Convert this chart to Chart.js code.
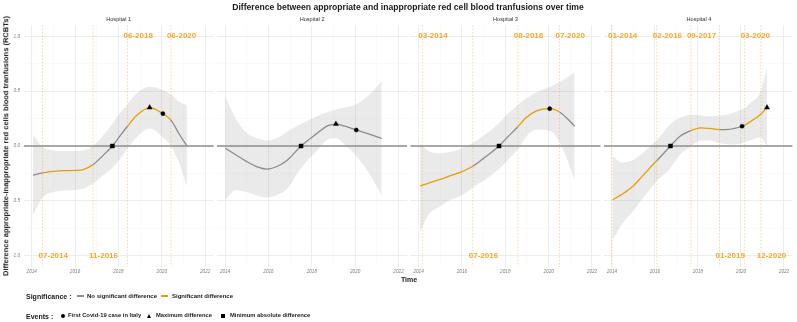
<!DOCTYPE html>
<html><head><meta charset="utf-8">
<script src="https://cdn.jsdelivr.net/npm/chart.js@4.4.1/dist/chart.umd.min.js"></script>
<style>
html,body{margin:0;padding:0;background:#fff;}
#wrap{position:relative;width:797px;height:322px;overflow:hidden;font-family:'Liberation Sans',Arial,Helvetica,sans-serif;color:#1a1a1a;}
canvas.panel{position:absolute;left:0;top:0;}
.t{position:absolute;white-space:nowrap;line-height:1;}
</style></head><body>
<div id="wrap">
<canvas class="panel" id="c0" width="797" height="322"></canvas>
<canvas class="panel" id="c1" width="797" height="322"></canvas>
<canvas class="panel" id="c2" width="797" height="322"></canvas>
<canvas class="panel" id="c3" width="797" height="322"></canvas>
<div id="texts"></div>
</div>
<script>
// ---------- data ----------
const HOSPITALS = ['Hospital 1', 'Hospital 2', 'Hospital 3', 'Hospital 4'];
const TITLE = 'Difference between appropriate and inappropriate red cell blood tranfusions over time';
const Y_TITLE = 'Difference appropriate-inappropriate red cells blood tranfusions (RCBTs)';
const X_TITLE = 'Time';
const X_TICKS = [2014, 2015, 2016, 2017, 2018, 2019, 2020, 2021, 2022];
const X_TICK_LABELS = ['2014', '', '2016', '', '2018', '', '2020', '', '2022'];
const Y_TICKS = [-1, -0.75, -0.5, -0.25, 0, 0.25, 0.5, 0.75, 1];
const Y_TICK_LABELS = ['-1.0', '', '-0.5', '', '0.0', '', '0.5', '', '1.0'];

const H1_TIME  = [2014.06, 2014.5, 2015.0, 2015.49, 2015.99, 2016.38, 2016.83, 2017.27, 2017.72, 2017.99, 2018.42, 2018.85, 2019.44, 2020.05, 2020.42, 2020.83, 2021.16];
const H1_FIT   = [-0.265, -0.245, -0.232, -0.225, -0.223, -0.215, -0.17, -0.09, 0.0, 0.07, 0.18, 0.28, 0.35, 0.295, 0.235, 0.1, 0.0];
const H1_UPPER = [0.10, -0.01, -0.04, -0.045, -0.045, -0.04, 0.0, 0.09, 0.2, 0.28, 0.38, 0.48, 0.54, 0.51, 0.47, 0.40, 0.37];
const H1_LOWER = [-0.63, -0.47, -0.42, -0.405, -0.40, -0.39, -0.34, -0.27, -0.2, -0.14, -0.02, 0.08, 0.16, 0.08, 0.0, -0.17, -0.37];
const H1_SIG = [[2014.5, 2016.83], [2018.42, 2020.42]];
const H1_EVENT_DATES = [2014.5, 2016.83, 2018.42, 2020.42];
const H1_EVENT_LABELS = ['07-2014', '11-2016', '06-2018', '06-2020'];
const H1_EVENT_SIDE = ['bottom', 'bottom', 'top', 'top'];
const H1_COVID = [2020.05, 0.295];
const H1_MAX = [2019.44, 0.35];
const H1_MIN = [2017.72, 0.0];

const H2_TIME  = [2014.0, 2014.49, 2014.98, 2015.48, 2015.92, 2016.46, 2016.86, 2017.5, 2018.24, 2018.74, 2019.11, 2019.53, 2020.05, 2020.61, 2021.22];
const H2_FIT   = [-0.02, -0.08, -0.14, -0.19, -0.21, -0.18, -0.13, 0.0, 0.115, 0.185, 0.2, 0.18, 0.146, 0.11, 0.07];
const H2_UPPER = [0.45, 0.25, 0.12, 0.07, 0.05, 0.08, 0.13, 0.2, 0.27, 0.31, 0.33, 0.35, 0.38, 0.46, 0.59];
const H2_LOWER = [-0.49, -0.40, -0.42, -0.45, -0.47, -0.44, -0.39, -0.2, -0.04, 0.06, 0.07, 0.01, -0.09, -0.24, -0.45];
const H2_SIG = [];
const H2_EVENT_DATES = [];
const H2_EVENT_LABELS = [];
const H2_EVENT_SIDE = [];
const H2_COVID = [2020.05, 0.146];
const H2_MAX = [2019.11, 0.2];
const H2_MIN = [2017.5, 0.0];

const H3_TIME  = [2014.07, 2014.49, 2014.99, 2015.48, 2015.98, 2016.5, 2016.98, 2017.71, 2018.15, 2018.58, 2018.94, 2019.44, 2020.05, 2020.5, 2020.81, 2021.2];
const H3_FIT   = [-0.365, -0.335, -0.305, -0.27, -0.235, -0.185, -0.115, 0.0, 0.09, 0.175, 0.255, 0.32, 0.34, 0.31, 0.26, 0.18];
const H3_UPPER = [0.02, -0.05, -0.065, -0.055, -0.02, 0.03, 0.09, 0.21, 0.3, 0.375, 0.43, 0.49, 0.54, 0.58, 0.62, 0.67];
const H3_LOWER = [-0.78, -0.62, -0.55, -0.49, -0.45, -0.38, -0.32, -0.21, -0.12, -0.03, 0.08, 0.15, 0.14, 0.04, -0.10, -0.31];
const H3_SIG = [[2014.0, 2016.5], [2018.58, 2020.5]];
const H3_EVENT_DATES = [2014.17, 2016.5, 2018.58, 2020.5];
const H3_EVENT_LABELS = ['03-2014', '07-2016', '08-2018', '07-2020'];
const H3_EVENT_SIDE = ['top', 'bottom', 'top', 'top'];
const H3_COVID = [2020.05, 0.34];
const H3_MAX = null;
const H3_MIN = [2017.71, 0.0];

const H4_TIME  = [2014.03, 2014.47, 2014.96, 2015.46, 2015.95, 2016.08, 2016.72, 2017.14, 2017.67, 2018.13, 2018.53, 2019.0, 2019.43, 2020.05, 2020.17, 2020.42, 2020.92, 2021.21];
const H4_FIT   = [-0.49, -0.44, -0.37, -0.265, -0.16, -0.135, 0.0, 0.085, 0.14, 0.165, 0.16, 0.15, 0.152, 0.18, 0.19, 0.22, 0.29, 0.35];
const H4_UPPER = [-0.09, -0.15, -0.13, -0.06, 0.03, 0.05, 0.2, 0.255, 0.285, 0.28, 0.27, 0.275, 0.29, 0.335, 0.345, 0.39, 0.5, 0.71];
const H4_LOWER = [-0.86, -0.71, -0.60, -0.47, -0.35, -0.32, -0.2, -0.085, -0.005, 0.05, 0.05, 0.025, 0.014, 0.025, 0.035, 0.05, 0.08, -0.01];
const H4_SIG = [[2014.0, 2016.08], [2017.67, 2019.0], [2020.17, 2021.3]];
const H4_EVENT_DATES = [2014.0, 2016.08, 2017.67, 2019.0, 2020.17, 2020.92];
const H4_EVENT_LABELS = ['01-2014', '02-2016', '09-2017', '01-2019', '03-2020', '12-2020'];
const H4_EVENT_SIDE = ['top', 'top', 'top', 'bottom', 'top', 'bottom'];
const H4_COVID = [2020.05, 0.18];
const H4_MAX = [2021.21, 0.35];
const H4_MIN = [2016.72, 0.0];

const LABEL_Y = {top: 1.0, bottom: -1.0};

const SIG_LEGEND = ['No significant difference', 'Significant difference'];
const EVENT_LEGEND = ['First Covid-19 case in Italy', 'Maximum difference', 'Minimum absolute difference'];

// ---------- layout & style ----------
const FONT = "'Liberation Sans', Arial, Helvetica, sans-serif";
const X_MIN = 2013.62, X_MAX = 2022.4, Y_MIN = -1.1, Y_MAX = 1.1;
const PANEL_LEFT0 = 23.5, PANEL_STEP = 193.43, PANEL_W = 190.3;
const PANEL_TOP = 25.3, PANEL_BOTTOM = 266.7;
const YW = 10, XH = 8;
const GRAY = '#8c8c8c', ORANGE = '#E69F00', ZERO = '#8f8f8f';
const BAND = 'rgba(150,150,150,0.2)';
const EVENT_COLOR = '#F0A830';
const MAJOR = '#ebebeb', MINOR = '#f5f5f5';

const PANELS = [
  {time: H1_TIME, fit: H1_FIT, up: H1_UPPER, lo: H1_LOWER, sig: H1_SIG, ed: H1_EVENT_DATES, el: H1_EVENT_LABELS, es: H1_EVENT_SIDE, covid: H1_COVID, max: H1_MAX, min: H1_MIN},
  {time: H2_TIME, fit: H2_FIT, up: H2_UPPER, lo: H2_LOWER, sig: H2_SIG, ed: H2_EVENT_DATES, el: H2_EVENT_LABELS, es: H2_EVENT_SIDE, covid: H2_COVID, max: H2_MAX, min: H2_MIN},
  {time: H3_TIME, fit: H3_FIT, up: H3_UPPER, lo: H3_LOWER, sig: H3_SIG, ed: H3_EVENT_DATES, el: H3_EVENT_LABELS, es: H3_EVENT_SIDE, covid: H3_COVID, max: H3_MAX, min: H3_MIN},
  {time: H4_TIME, fit: H4_FIT, up: H4_UPPER, lo: H4_LOWER, sig: H4_SIG, ed: H4_EVENT_DATES, el: H4_EVENT_LABELS, es: H4_EVENT_SIDE, covid: H4_COVID, max: H4_MAX, min: H4_MIN}
];

const HLINE_INDEX = 4, LOWER_INDEX = 6;

function eventPlugin(p) {
  return {
    id: 'events',
    beforeDatasetDraw(chart, args) {
      if (args.index !== HLINE_INDEX) return;
      const {ctx, chartArea: a} = chart, x = chart.scales.x;
      ctx.save();
      ctx.strokeStyle = 'rgba(240,168,48,0.55)';
      ctx.lineWidth = 0.8;
      ctx.setLineDash([1.5, 1.8]);
      p.ed.forEach(d => {
        const px = x.getPixelForValue(d);
        ctx.beginPath(); ctx.moveTo(px, a.top); ctx.lineTo(px, a.bottom); ctx.stroke();
      });
      ctx.restore();
    },
    afterDatasetsDraw(chart) {
      const {ctx} = chart, x = chart.scales.x, y = chart.scales.y;
      ctx.save();
      ctx.font = 'bold 8px ' + FONT;
      ctx.fillStyle = EVENT_COLOR;
      ctx.textAlign = 'left';
      ctx.textBaseline = 'middle';
      p.ed.forEach((d, k) => {
        ctx.fillText(p.el[k], x.getPixelForValue(d) - 4, y.getPixelForValue(LABEL_Y[p.es[k]]));
      });
      ctx.restore();
    }
  };
}

function marker(v, style, r) {
  return {data: v ? [{x: v[0], y: v[1]}] : [], showLine: false, pointStyle: style, pointRadius: r,
    pointBackgroundColor: '#000', pointBorderColor: '#000', pointBorderWidth: 0.4};
}

PANELS.forEach((p, i) => {
  const left = PANEL_LEFT0 + i * PANEL_STEP;
  const pts = (xs, ys) => xs.map((xv, k) => ({x: xv, y: ys[k]}));
  const inSig = (a, b) => { const m = (a + b) / 2; return p.sig.some(w => m >= w[0] && m <= w[1]); };
  const datasets = [
    marker(p.covid, 'circle', 2.1),
    marker(p.max, 'triangle', 3.0),
    marker(p.min, 'rect', 2.9),
    {data: pts(p.time, p.fit), borderColor: GRAY, borderWidth: 1.3, pointRadius: 0, cubicInterpolationMode: 'monotone',
      segment: {borderColor: c => inSig(c.p0.parsed.x, c.p1.parsed.x) ? ORANGE : GRAY}},
    {data: [{x: X_MIN, y: 0}, {x: X_MAX, y: 0}], borderColor: ZERO, borderWidth: 1.3, pointRadius: 0},
    {data: pts(p.time, p.up), borderColor: 'rgba(0,0,0,0)', borderWidth: 0.1, pointRadius: 0, cubicInterpolationMode: 'monotone',
      fill: LOWER_INDEX, backgroundColor: BAND},
    {data: pts(p.time, p.lo), borderColor: 'rgba(0,0,0,0)', borderWidth: 0.1, pointRadius: 0, cubicInterpolationMode: 'monotone', fill: false}
  ];
  new Chart(document.getElementById('c' + i), {
    type: 'line',
    data: {datasets},
    plugins: [eventPlugin(p)],
    options: {
      responsive: false, animation: false, events: [],
      layout: {padding: {left: left - YW, right: 797 - left - PANEL_W, top: PANEL_TOP, bottom: 322 - PANEL_BOTTOM - XH}},
      plugins: {legend: {display: false}, tooltip: {enabled: false}, title: {display: false}},
      scales: {
        x: {type: 'linear', min: X_MIN, max: X_MAX,
          afterBuildTicks: s => { s.ticks = X_TICKS.map(v => ({value: v})); },
          afterFit: s => { s.height = XH; },
          ticks: {autoSkip: false, maxRotation: 0, minRotation: 0, padding: 2, color: '#7f7f7f',
            font: {size: 4.7, style: 'italic', family: FONT}, callback: (v, k) => X_TICK_LABELS[k]},
          grid: {drawTicks: false, color: c => X_TICK_LABELS[c.index] ? MAJOR : MINOR,
            lineWidth: c => X_TICK_LABELS[c.index] ? 0.9 : 0.5},
          border: {display: false}},
        y: {type: 'linear', min: Y_MIN, max: Y_MAX,
          afterBuildTicks: s => { s.ticks = Y_TICKS.map(v => ({value: v})); },
          afterFit: s => { s.width = YW; },
          ticks: {display: i === 0, padding: 3.5, color: '#7f7f7f',
            font: {size: 4.7, style: 'italic', family: FONT}, callback: (v, k) => Y_TICK_LABELS[k]},
          grid: {drawTicks: false, color: c => Y_TICK_LABELS[c.index] ? MAJOR : MINOR,
            lineWidth: c => Y_TICK_LABELS[c.index] ? 0.9 : 0.5},
          border: {display: false}}
      }
    }
  });
});

// ---------- text (HTML) ----------
const T = document.getElementById('texts');
function txt(s, x, y, css, center) {
  const d = document.createElement('div');
  d.className = 't';
  d.textContent = s;
  d.style.cssText += css;
  d.style.left = x + 'px';
  d.style.top = y + 'px';
  d.style.transform = center ? 'translate(-50%,-50%)' : 'translate(0,-50%)';
  T.appendChild(d);
  return d;
}
function box(x, y, css) {
  const d = document.createElement('div');
  d.style.cssText = 'position:absolute;left:' + x + 'px;top:' + y + 'px;' + css;
  T.appendChild(d);
}
txt(TITLE, 408, 6.5, 'font-weight:bold;font-size:8.6px;', true);
HOSPITALS.forEach((h, i) => txt(h, PANEL_LEFT0 + i * PANEL_STEP + PANEL_W / 2, 19.5, 'font-size:5.6px;color:#333;', true));
const yt = txt(Y_TITLE, 5.8, 145.5, 'font-weight:bold;font-size:7.5px;', true);
yt.style.transform = 'translate(-50%,-50%) rotate(-90deg)';
txt(X_TITLE, 409, 279, 'font-weight:bold;font-size:7px;', true);

txt('Significance :', 26, 296, 'font-weight:bold;font-size:7px;', false);
box(76.5, 295.3, 'width:7px;height:1.4px;background:' + GRAY);
txt(SIG_LEGEND[0], 87, 296, 'font-weight:bold;font-size:6px;', false);
box(161, 295.3, 'width:7px;height:1.4px;background:' + ORANGE);
txt(SIG_LEGEND[1], 172, 296, 'font-weight:bold;font-size:6px;', false);

txt('Events :', 26, 316, 'font-weight:bold;font-size:7px;', false);
box(61, 314, 'width:4px;height:4px;border-radius:50%;background:#000');
txt(EVENT_LEGEND[0], 68, 316, 'font-weight:bold;font-size:5.8px;', false);
box(147, 313.5, 'width:0;height:0;border-left:2.3px solid transparent;border-right:2.3px solid transparent;border-bottom:4px solid #000');
txt(EVENT_LEGEND[1], 156, 316, 'font-weight:bold;font-size:5.8px;', false);
box(221, 314, 'width:4px;height:4px;background:#000');
txt(EVENT_LEGEND[2], 230, 316, 'font-weight:bold;font-size:5.8px;', false);
</script>
</body></html>
